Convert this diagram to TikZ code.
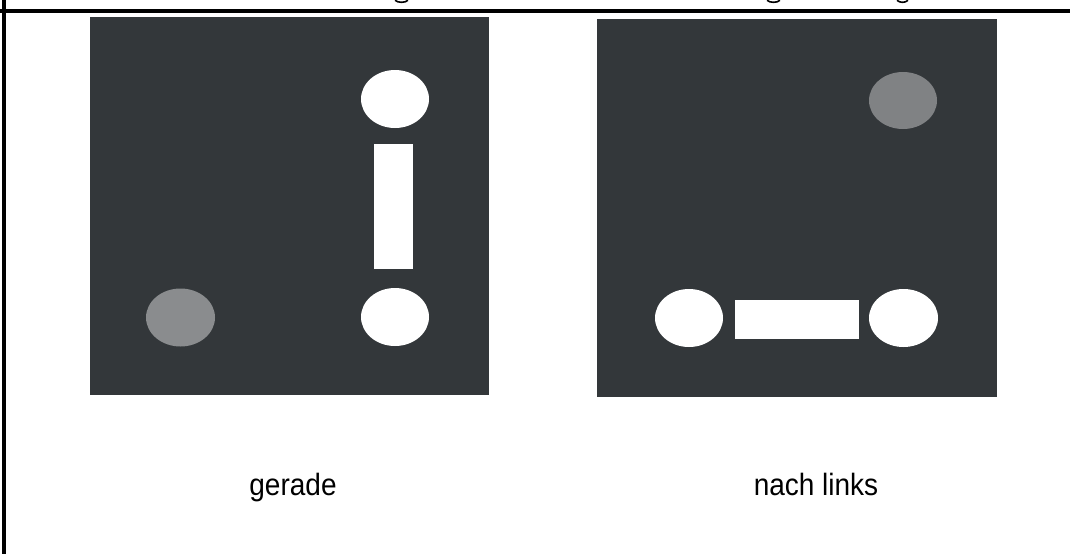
\documentclass[tikz,border=0pt]{standalone}
\usepackage{fontspec}
\setmainfont{Liberation Sans}
\definecolor{panel}{HTML}{33373A}
\definecolor{lamp}{HTML}{8A8C8E}
\definecolor{lampb}{HTML}{808284}
\tikzset{
  frameline/.style={line width=4pt, black},
  panelbox/.style={fill=panel},
  lit/.style={fill=white},
  caption/.style={font=\fontsize{28}{30}\selectfont, inner sep=0pt, anchor=base, yscale=1.1},
  desc/.style={line width=1.6pt, black}
}
\begin{document}
\begin{tikzpicture}[x=1pt,y=-1pt]
\useasboundingbox (0,0) rectangle (1070,554);
\fill[white] (0,0) rectangle (1070,554);
% frame lines
\draw[frameline] (0,11) -- (1070,11);
\draw[frameline] (4,0) -- (4,554);
% cut-off title descenders
\draw[desc] (395,0.3) .. controls (398,3) and (405,3) .. (408,0.3);
\draw[desc] (767,0.3) .. controls (770,3) and (777,3) .. (780,0.3);
\draw[desc] (897,0.3) .. controls (900,3) and (905,3) .. (908,0.3);
% left panel
\fill[panelbox] (90,17) rectangle (489,395);
\fill[lit] (395,99) ellipse [x radius=34, y radius=29];
\fill[lit] (374,144) rectangle (413,269);
\fill[lit] (395,317) ellipse [x radius=34, y radius=29];
\fill[lamp] (180.5,317.5) ellipse [x radius=34.5, y radius=29];
% right panel
\fill[panelbox] (597,19) rectangle (997,397);
\fill[lampb] (903,100.5) ellipse [x radius=34, y radius=28.5];
\fill[lit] (689,318) ellipse [x radius=34, y radius=29];
\fill[lit] (735,300) rectangle (859,339);
\fill[lit] (903.5,318) ellipse [x radius=34.5, y radius=29];
% captions
\node[caption] (cap1) at (293,495) {gerade};
\node[caption] (cap2) at (816,495) {nach links};
\end{tikzpicture}
\end{document}
